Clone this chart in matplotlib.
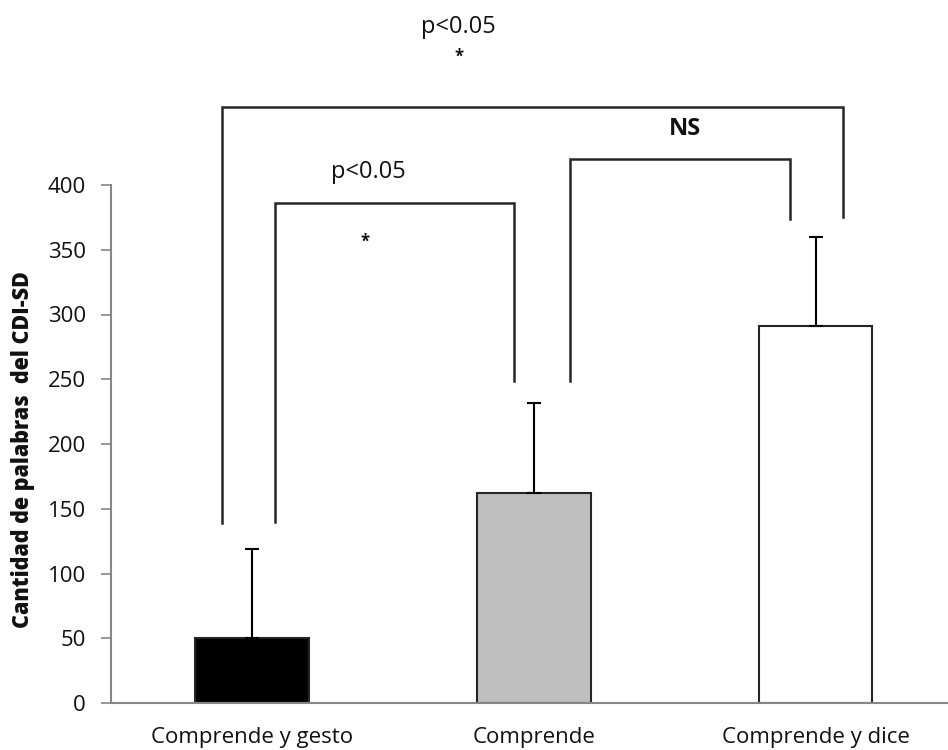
import numpy as np
import matplotlib
matplotlib.use('Agg')
import matplotlib.pyplot as plt

categories=['Comprende y gesto','Comprende','Comprende y dice']
means=[50,162,291]
sd=[69,70,69]
bar_colors=['#000000','#bfbfbf','#ffffff']
yticks=[0,50,100,150,200,250,300,350,400]
ylabel='Cantidad de palabras  del CDI-SD'

# significance brackets: [x left, x right, y left end, y right end, y top]
brackets=[[-0.106,2.096,139,375,460],
	[0.082,0.929,140,249,386],
	[1.128,1.911,249,374,420]]
# annotation texts: [x, y, text, size, bold]
notes=[[0.734,522,'p<0.05',17,False],
	[0.734,499,'*',12,True],
	[0.415,410,'p<0.05',17,False],
	[0.40,356,'*',12,True],
	[1.535,443,'NS',17,True]]

plt.rcParams['font.family']=['Open Sans','DejaVu Sans']
fig=plt.figure(figsize=(9.48,7.5),dpi=100)
ax=fig.add_axes([111/948,1-703/750,1-111/948,(703-185)/750])

x=np.arange(len(categories))
ax.bar(x,means,width=0.404,color=bar_colors,edgecolor='#262626',linewidth=1.5,zorder=2)
ax.errorbar(x,means,yerr=[[0]*len(sd),sd],fmt='none',ecolor='#000000',elinewidth=1.5,capsize=5,capthick=1.5,zorder=3)

for xl,xr,yl,yr,yt in brackets:
	ax.plot([xl,xl,xr,xr],[yl,yt,yt,yr],color='#262626',lw=1.8,clip_on=False,solid_joinstyle='miter')

for tx,ty,s,fs,b in notes:
	ax.text(tx,ty,s,ha='center',va='center',fontsize=fs,fontweight='bold' if b else 'normal',color='#111111',clip_on=False)

ax.set_xlim(-0.5,2.47)
ax.set_ylim(0,400)
ax.set_yticks(yticks)
ax.set_xticks(x)
ax.set_xticklabels(categories,fontsize=16,color='#111111')
ax.tick_params(axis='x',length=0,pad=17)
ax.tick_params(axis='y',length=7,width=1.2,color='#868686',pad=11,labelsize=16,labelcolor='#111111')
for s in ['top','right']:
	ax.spines[s].set_visible(False)
for s in ['left','bottom']:
	ax.spines[s].set_color('#868686')
	ax.spines[s].set_linewidth(1.5)

# y label placed in figure coords to match the reference
fig.text(23/948,1-450/750,ylabel,rotation=90,ha='center',va='center',fontsize=15.5,fontweight='heavy',color='#111111')

fig.savefig('out.png',dpi=100)
